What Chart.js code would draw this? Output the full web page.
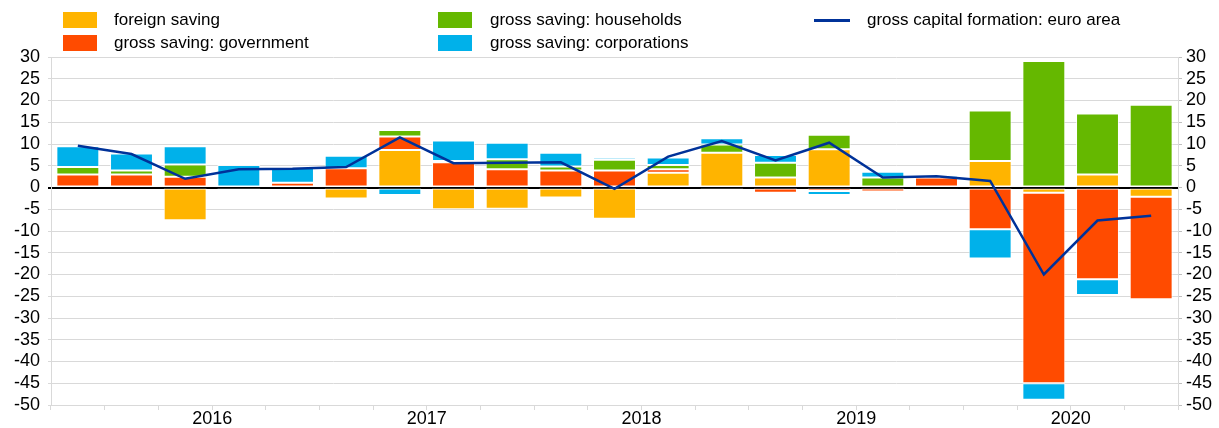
<!DOCTYPE html>
<html>
<head>
<meta charset="utf-8">
<script src="https://cdn.jsdelivr.net/npm/chart.js@4"></script>
<style>
  html, body { margin: 0; padding: 0; background: #fff; }
  #wrap { position: relative; width: 1219px; height: 428px; font-family: "Liberation Sans", Arial, sans-serif; }
  canvas { position: absolute; left: 0; top: 0; }
  .leg { position: absolute; font-size: 17px; color: #000; line-height: 18px; white-space: nowrap; }
  .sw { position: absolute; width: 34px; height: 16px; }
  .ln { position: absolute; width: 36px; height: 3px; background: #003299; }
</style>
</head>
<body>
<div id="wrap">
  <canvas id="grafico" width="1219" height="428"></canvas>
  <div class="sw" style="left:63px;top:12px;background:#FFB400"></div>
  <div class="leg" style="left:114px;top:11px">foreign saving</div>
  <div class="sw" style="left:63px;top:35px;background:#FF4B00"></div>
  <div class="leg" style="left:114px;top:34px">gross saving: government</div>
  <div class="sw" style="left:438px;top:12px;background:#65B800"></div>
  <div class="leg" style="left:490px;top:11px">gross saving: households</div>
  <div class="sw" style="left:438px;top:35px;background:#00B1EA"></div>
  <div class="leg" style="left:490px;top:34px">gross saving: corporations</div>
  <div class="ln" style="left:814px;top:19px"></div>
  <div class="leg" style="left:867px;top:11px">gross capital formation: euro area</div>
</div>
<script>
const trimestres = ['2015Q4', '2016Q1', '2016Q2', '2016Q3', '2016Q4', '2017Q1', '2017Q2', '2017Q3', '2017Q4',
  '2018Q1', '2018Q2', '2018Q3', '2018Q4', '2019Q1', '2019Q2', '2019Q3', '2019Q4',
  '2020Q1', '2020Q2', '2020Q3', '2020Q4'];

const poupancaExterna = [0, 0, -7.5, 0, 0, -2.5, 8.6, -5.0, -4.9, -2.3, -7.2, 3.4, 8.0, 2.3, 8.8, 0, -0.2, 6.1, -1.2, 3.0, -2.1];
const poupancaGoverno = [3.0, 3.0, 2.5, -0.7, 1.1, 4.4, 3.1, 5.8, 4.2, 3.9, 3.9, 0.8, -0.6, -1.2, -0.8, -0.9, 2.3, -9.6, -43.8, -21.1, -23.6];
const poupancaFamilias = [1.7, 0.9, 2.8, 0, 0, 0, 1.5, 0.3, 2.3, 0.9, 2.5, 1.0, 1.9, 3.4, 3.3, 2.3, 0, 11.6, 29.1, 14.0, 19.0];
const poupancaEmpresas = [4.8, 3.9, 4.2, 5.2, 3.4, 2.9, -1.7, 4.7, 3.8, 3.2, 0.5, 1.7, 1.4, 1.8, -0.9, 1.3, 0.5, -6.7, -3.8, -3.6, 0.4];
const formacaoCapital = [9.6, 7.7, 2.0, 4.2, 4.3, 4.7, 11.5, 5.6, 5.7, 5.8, -0.3, 7.1, 10.7, 6.2, 10.3, 2.3, 2.6, 1.5, -20.0, -7.6, -6.5];

const fonte = { family: '"Liberation Sans", Arial, sans-serif', size: 18 };

function barra(label, dados, cor) {
  return {
    type: 'bar',
    label: label,
    data: dados,
    backgroundColor: cor,
    borderColor: 'rgba(255,255,255,0.8)',
    borderWidth: 1,
    borderSkipped: false,
    stack: 'barras',
    order: 2,
    categoryPercentage: 1,
    barPercentage: 0.8
  };
}

const ctx = document.getElementById('grafico').getContext('2d');
new Chart(ctx, {
  data: {
    labels: trimestres,
    datasets: [
      {
        type: 'line',
        label: 'gross capital formation: euro area',
        data: formacaoCapital,
        borderColor: '#003299',
        borderWidth: 2.5,
        pointRadius: 0,
        tension: 0,
        stack: 'linha',
        order: 0
      },
      barra('foreign saving', poupancaExterna, '#FFB400'),
      barra('gross saving: government', poupancaGoverno, '#FF4B00'),
      barra('gross saving: households', poupancaFamilias, '#65B800'),
      barra('gross saving: corporations', poupancaEmpresas, '#00B1EA')
    ]
  },
  options: {
    responsive: false,
    animation: false,
    layout: { padding: { top: 57, bottom: 0, left: 0, right: 0 } },
    plugins: {
      legend: { display: false },
      tooltip: { enabled: false }
    },
    scales: {
      x: {
        stacked: true,
        afterFit: s => { s.height = 23; },
        grid: { offset: true, drawOnChartArea: false, color: '#d9d9d9', tickLength: 5 },
        border: { color: '#d9d9d9' },
        ticks: {
          color: '#000',
          font: fonte,
          autoSkip: false,
          maxRotation: 0,
          padding: -2,
          labelOffset: 27,
          callback: function (v) {
            const l = this.getLabelForValue(v);
            return l.endsWith('Q2') ? l.slice(0, 4) : '';
          }
        }
      },
      y: {
        stacked: true,
        position: 'left',
        min: -50,
        max: 30,
        afterFit: s => { s.width = 51; },
        ticks: { stepSize: 5, autoSkip: false, color: '#000', font: fonte, padding: 8 },
        grid: {
          color: c => c.tick.value === 0 ? '#000' : '#d9d9d9',
          lineWidth: c => c.tick.value === 0 ? 2 : 1,
          tickLength: 3
        },
        border: { color: '#d9d9d9' }
      },
      y2: {
        position: 'right',
        min: -50,
        max: 30,
        afterFit: s => { s.width = 41; },
        ticks: { stepSize: 5, autoSkip: false, color: '#000', font: fonte, padding: 4 },
        grid: { drawOnChartArea: false, color: '#bfbfbf', tickLength: 4 },
        border: { color: '#d9d9d9' }
      }
    }
  }
});
</script>
</body>
</html>
